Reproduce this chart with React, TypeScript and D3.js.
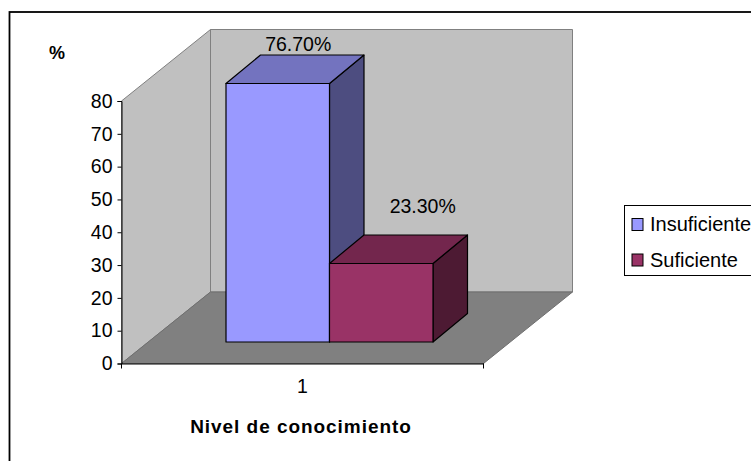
import React, { useRef, useEffect } from "react";
import * as d3 from "d3";

const categories = ["1"];
const seriesNames = ["Insuficiente", "Suficiente"];
const seriesValues = [76.7, 23.3];
const seriesLabels = ["76.70%", "23.30%"];
const yTicks = [0, 10, 20, 30, 40, 50, 60, 70, 80];
const faceColors = ["#9999FF", "#993366"];
const topColors = ["#7373BF", "#73264D"];
const sideColors = ["#4D4D80", "#4D1A33"];

export default function App() {
    const ref = useRef<SVGSVGElement>(null);

    useEffect(() => {
        const width = 751, height = 461;
        const svg = d3.select(ref.current);
        svg.selectAll("*").remove();
        svg.attr("width", width).attr("height", height);

        const font = "'Liberation Sans', Arial, sans-serif";
        const fontSize = 19.5;

        // Front plane of the 3D box
        const x0 = 121.5, x1 = 483.5, y0 = 363.5, yTop = 101;
        const depthX = 89, depthY = -71.5;

        const y = d3.scaleLinear().domain([0, 80]).range([y0, yTop]);
        const x = d3.scaleBand().domain(categories).range([x0, x1]);

        // Bars sit inside the box, so they have their own baseline and scale
        const barBase = 342;
        const yBar = d3.scaleLinear().domain([0, 80]).range([barBase, barBase - 269.6]);
        const xBar = d3.scaleBand().domain(seriesNames).range([226, 433]);
        const barDx = 34.5, barDy = -28.5;

        const poly = (pts: number[][]) => "M" + pts.map(p => p.join(",")).join("L") + "Z";

        // Paredes
        svg.append("path")
            .attr("d", poly([[x0 + depthX, y0 + depthY], [x1 + depthX, y0 + depthY], [x1 + depthX, yTop + depthY], [x0 + depthX, yTop + depthY]]))
            .attr("fill", "#C0C0C0").attr("stroke", "#808080").attr("stroke-width", 1);
        svg.append("path")
            .attr("d", poly([[x0, y0], [x0 + depthX, y0 + depthY], [x0 + depthX, yTop + depthY], [x0, yTop]]))
            .attr("fill", "#C0C0C0").attr("stroke", "#808080").attr("stroke-width", 1);
        svg.append("path")
            .attr("d", poly([[x0, y0], [x1, y0], [x1 + depthX, y0 + depthY], [x0 + depthX, y0 + depthY]]))
            .attr("fill", "#808080").attr("stroke", "#6E6E6E").attr("stroke-width", 1);

        // Barras, la segunda queda delante de la cara lateral de la primera
        const bars = svg.append("g").attr("stroke", "#000").attr("stroke-width", 1.2).attr("stroke-linejoin", "round");
        seriesNames.forEach((name, i) => {
            const l = xBar(name)!, r = l + xBar.bandwidth(), t = yBar(seriesValues[i]);
            bars.append("path")
                .attr("d", poly([[r, barBase], [r + barDx, barBase + barDy], [r + barDx, t + barDy], [r, t]]))
                .attr("fill", sideColors[i]);
            bars.append("path")
                .attr("d", poly([[l, t], [r, t], [r + barDx, t + barDy], [l + barDx, t + barDy]]))
                .attr("fill", topColors[i]);
            bars.append("rect")
                .attr("x", l).attr("y", t)
                .attr("width", r - l).attr("height", barBase - t)
                .attr("fill", faceColors[i]);
        });

        // Ejes
        const axisY = svg.append("g")
            .attr("transform", `translate(${x0},0)`)
            .call(d3.axisLeft(y).tickValues(yTicks).tickSize(4).tickPadding(5).tickFormat(d3.format("d")));
        const axisX = svg.append("g")
            .attr("transform", `translate(0,${y0})`)
            .call(d3.axisBottom(x).tickSize(0).tickPadding(16));
        [axisY, axisX].forEach(a => {
            a.selectAll("path,line").attr("stroke", "#000");
            a.selectAll("text").attr("font-family", font).attr("font-size", fontSize).attr("fill", "#000");
        });
        svg.append("g").selectAll("line").data([x0, x1]).enter().append("line")
            .attr("x1", d => d).attr("x2", d => d)
            .attr("y1", y0).attr("y2", y0 + 5)
            .attr("stroke", "#000");

        // Etiquetas de datos
        const labelShift = [-14, 7];
        svg.append("g").selectAll("text")
            .data(seriesNames)
            .enter().append("text")
            .attr("x", (d, i) => xBar(d)! + xBar.bandwidth() / 2 + barDx + labelShift[i])
            .attr("y", (d, i) => yBar(seriesValues[i]) + barDy - (i === 0 ? 4 : 22))
            .attr("text-anchor", "middle")
            .attr("font-family", font).attr("font-size", fontSize).attr("fill", "#000")
            .text((d, i) => seriesLabels[i]);

        // Titulos
        svg.append("text").attr("x", 57).attr("y", 59)
            .attr("text-anchor", "middle")
            .attr("font-family", font).attr("font-size", 18).attr("font-weight", "bold")
            .text("%");
        svg.append("text").attr("x", 301).attr("y", 432.5)
            .attr("text-anchor", "middle")
            .attr("font-family", font).attr("font-size", 19).attr("font-weight", "bold")
            .attr("letter-spacing", 0.95)
            .text("Nivel de conocimiento");

        // Leyenda
        const legend = svg.append("g");
        legend.append("rect")
            .attr("x", 624.5).attr("y", 205.5).attr("width", 140).attr("height", 70)
            .attr("fill", "#fff").attr("stroke", "#000");
        const legendY = d3.scalePoint().domain(seriesNames).range([224.5, 260]);
        seriesNames.forEach((name, i) => {
            legend.append("rect")
                .attr("x", 632).attr("y", legendY(name)! - 6)
                .attr("width", 11).attr("height", 12)
                .attr("fill", faceColors[i]).attr("stroke", "#000");
            legend.append("text")
                .attr("x", 650).attr("y", legendY(name)! + 6.5)
                .attr("font-family", font).attr("font-size", 20)
                .text(name);
        });

        // Marco
        svg.append("rect")
            .attr("x", 9.5).attr("y", 12).attr("width", 800).attr("height", 500)
            .attr("fill", "none").attr("stroke", "#000").attr("stroke-width", 1.8);
    }, []);

    return <svg ref={ref} style={{ position: "absolute", left: 0, top: 0, background: "#fff" }}></svg>;
}
